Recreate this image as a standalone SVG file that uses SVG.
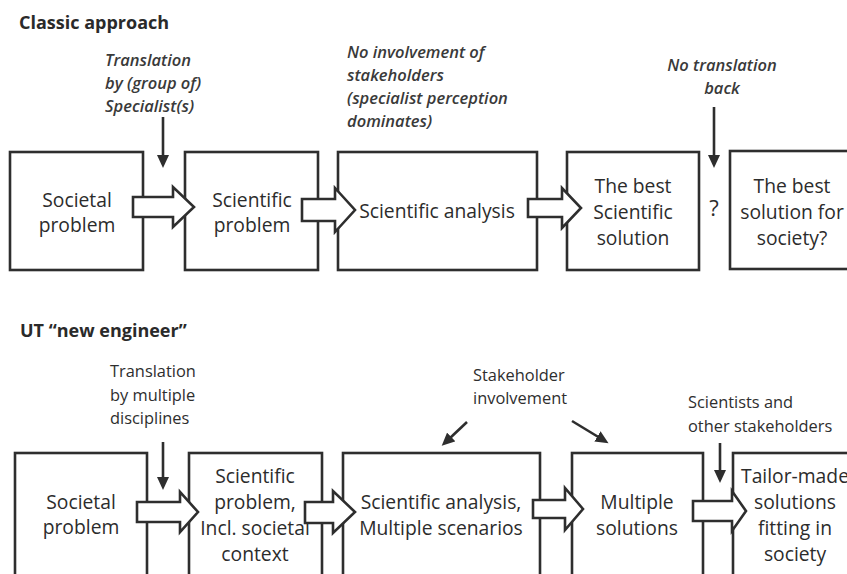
<svg xmlns="http://www.w3.org/2000/svg" width="847" height="574" viewBox="0 0 847 574">
  <style>
    .box { fill: #fff; stroke: #2e2e2e; stroke-width: 2.6; }
    .blk { fill: #fff; stroke: #2e2e2e; stroke-width: 2.6; stroke-linejoin: miter; }
    .ptr { fill: none; stroke: #2e2e2e; stroke-width: 2.6; }
    .title { font-family: "Open Sans", "Liberation Sans", sans-serif; font-weight: 700; font-size: 18px; fill: #2a2a2a; }
    .lbl { font-family: "Open Sans", "Liberation Sans", sans-serif; font-size: 19.3px; fill: #2c2c2c; text-anchor: middle; }
    .note { font-family: "Open Sans", "Liberation Sans", sans-serif; font-size: 16.5px; font-weight: 600; font-style: italic; fill: #3a3a3a; }
    .note2 { font-family: "Open Sans", "Liberation Sans", sans-serif; font-size: 16.4px; fill: #2e2e2e; }
  </style>
  <defs>
    <marker id="head" markerUnits="userSpaceOnUse" markerWidth="14" markerHeight="12" refX="3" refY="6" orient="auto">
      <path d="M0,0 L13,6 L0,12 z" fill="#2e2e2e"/>
    </marker>
  </defs>

  <rect width="847" height="574" fill="#fff"/>

  <!-- Classic approach -->
  <text class="title" x="19" y="29">Classic approach</text>

  <g id="c-societal">
    <rect class="box" x="10" y="152" width="133" height="118"/>
    <text class="lbl" x="77" y="207">Societal</text>
    <text class="lbl" x="77" y="232">problem</text>
  </g>
  <g id="c-scientific">
    <rect class="box" x="185" y="152" width="133" height="118"/>
    <text class="lbl" x="252" y="207">Scientific</text>
    <text class="lbl" x="252" y="232">problem</text>
  </g>
  <g id="c-analysis">
    <rect class="box" x="338" y="152" width="199" height="118"/>
    <text class="lbl" x="437" y="218">Scientific analysis</text>
  </g>
  <g id="c-best-sci">
    <rect class="box" x="567" y="152" width="132" height="118"/>
    <text class="lbl" x="633" y="193">The best</text>
    <text class="lbl" x="633" y="219">Scientific</text>
    <text class="lbl" x="633" y="245">solution</text>
  </g>
  <g id="c-best-soc">
    <rect class="box" x="730" y="151" width="130" height="118"/>
    <text class="lbl" x="792" y="193">The best</text>
    <text class="lbl" x="792" y="219">solution for</text>
    <text class="lbl" x="792" y="245">society?</text>
  </g>
  <g id="c-question">
    <text class="lbl" x="714" y="216" style="font-size:22px">?</text>
  </g>

  <g id="c-notes">
    <text class="note" x="105" y="66">Translation</text>
    <text class="note" x="105" y="89">by (group of)</text>
    <text class="note" x="105" y="112">Specialist(s)</text>
    <text class="note" x="347" y="58">No involvement of</text>
    <text class="note" x="347" y="81">stakeholders</text>
    <text class="note" x="347" y="104">(specialist perception</text>
    <text class="note" x="347" y="127">dominates)</text>
    <text class="note" x="722" y="71" text-anchor="middle">No translation</text>
    <text class="note" x="722" y="94" text-anchor="middle">back</text>
  </g>

  <!-- UT new engineer -->
  <text class="title" x="20" y="337">UT “new engineer”</text>

  <g id="n-societal">
    <rect class="box" x="15" y="453" width="132" height="140"/>
    <text class="lbl" x="81" y="509">Societal</text>
    <text class="lbl" x="81" y="534">problem</text>
  </g>
  <g id="n-scientific">
    <rect class="box" x="189" y="453" width="133" height="140"/>
    <text class="lbl" x="255" y="483">Scientific</text>
    <text class="lbl" x="255" y="509">problem,</text>
    <text class="lbl" x="255" y="535">Incl. societal</text>
    <text class="lbl" x="255" y="561">context</text>
  </g>
  <g id="n-analysis">
    <rect class="box" x="343" y="453" width="197" height="140"/>
    <text class="lbl" x="441" y="509">Scientific analysis,</text>
    <text class="lbl" x="441" y="535">Multiple scenarios</text>
  </g>
  <g id="n-multiple">
    <rect class="box" x="572" y="453" width="131" height="140"/>
    <text class="lbl" x="637" y="509">Multiple</text>
    <text class="lbl" x="637" y="535">solutions</text>
  </g>
  <g id="n-tailor">
    <rect class="box" x="733" y="453" width="130" height="140"/>
    <text class="lbl" x="795" y="483">Tailor-made</text>
    <text class="lbl" x="795" y="509">solutions</text>
    <text class="lbl" x="795" y="535">fitting in</text>
    <text class="lbl" x="795" y="561">society</text>
  </g>

  <g id="n-notes">
    <text class="note2" x="110" y="377">Translation</text>
    <text class="note2" x="110" y="401">by multiple</text>
    <text class="note2" x="110" y="424">disciplines</text>
    <text class="note2" x="473" y="381">Stakeholder</text>
    <text class="note2" x="473" y="404">involvement</text>
    <text class="note2" x="688" y="408">Scientists and</text>
    <text class="note2" x="688" y="432">other stakeholders</text>
  </g>

  <!-- connectors: block arrows between stages and pointer arrows from notes -->
  <g id="connectors">
    <polygon class="blk" points="133,197 173,197 173,187 194,207 173,227 173,217 133,217"/>
    <polygon class="blk" points="302,199 335,199 335,188 355,210 335,232 335,221 302,221"/>
    <polygon class="blk" points="528,199 562,199 562,188 581,208 562,228 562,217 528,217"/>

    <polygon class="blk" points="137,502 180,502 180,492 198,512 180,532 180,522 137,522"/>
    <polygon class="blk" points="305,502 333,502 333,491 355,512 333,533 333,523 305,523"/>
    <polygon class="blk" points="533,500 565,500 565,488 583,509 565,530 565,518 533,518"/>
    <polygon class="blk" points="693,501 732,501 732,491 746,511 732,531 732,521 693,521"/>

    <path class="ptr" d="M163,117 V158" marker-end="url(#head)"/>
    <path class="ptr" d="M714,107 V158" marker-end="url(#head)"/>
    <path class="ptr" d="M163,442 V480" marker-end="url(#head)"/>
    <path class="ptr" d="M720,443 V473" marker-end="url(#head)"/>
    <path class="ptr" d="M467,422 L449,439" marker-end="url(#head)"/>
    <path class="ptr" d="M572,421 L600,438" marker-end="url(#head)"/>
  </g>
</svg>
